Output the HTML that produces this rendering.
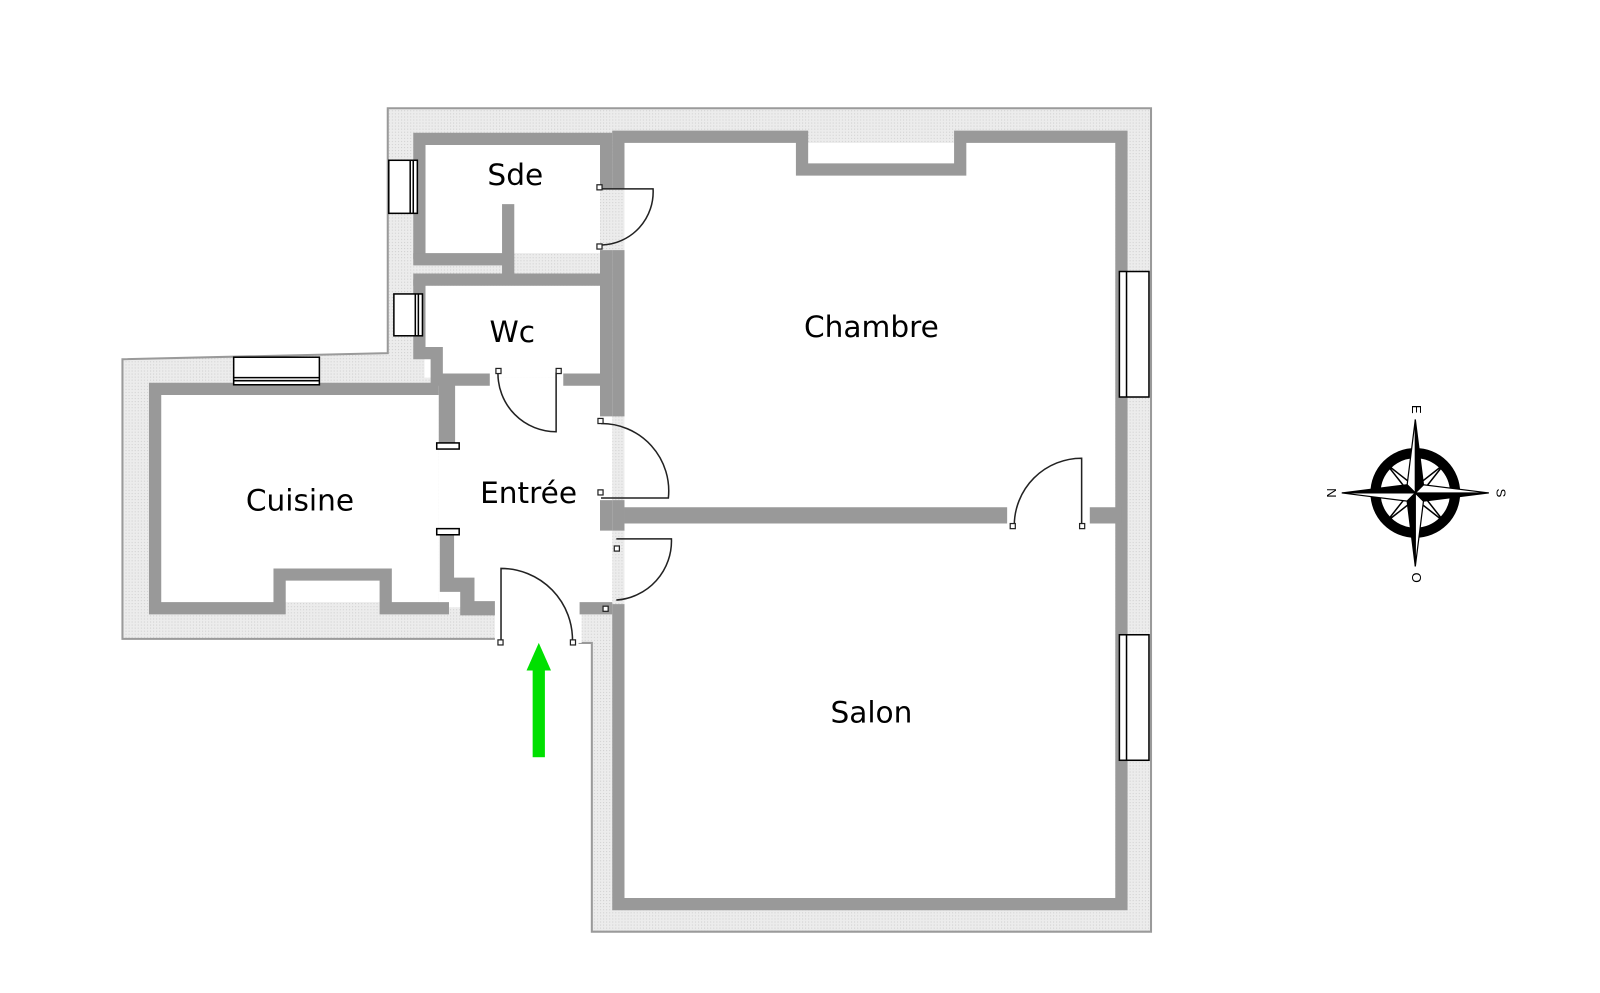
<!DOCTYPE html>
<html><head><meta charset="utf-8"><style>
html,body{margin:0;padding:0;background:#fff;width:1600px;height:993px;overflow:hidden}
svg{display:block}
text{font-family:"Comic Sans MS","DejaVu Sans","Liberation Sans",sans-serif;font-size:29px;fill:#000}
</style></head><body>
<svg width="1600" height="993" viewBox="0 0 1568 973">
<defs>
<pattern id="dots" width="3" height="3" patternUnits="userSpaceOnUse"><rect width="3" height="3" fill="#ececec"/><rect width="1" height="1" fill="#cfcfcf"/></pattern>
</defs>
<polygon points="380,106 1128,106 1128,913 580,913 580,630 568,630 568,626 120,626 120,352 380,346" fill="url(#dots)" stroke="#9a9a9a" stroke-width="2"/>
<g fill="#fff">
<rect x="416" y="141" width="172" height="107"/>
<rect x="416" y="280" width="172" height="90"/>
<rect x="612" y="140" width="481" height="740"/>
<rect x="158" y="387" width="272" height="203"/>
<rect x="430" y="370" width="170" height="225"/>
<rect x="485" y="590" width="85" height="40"/>
</g>
<g fill="none" stroke="#999" stroke-width="12" stroke-linejoin="miter">
<polyline points="411,254 411,136 594,136 594,185"/>
<polyline points="405,254 500,254"/>
<line x1="498" y1="200" x2="498" y2="274"/>
<line x1="405" y1="274" x2="594" y2="274"/>
<polyline points="411,274 411,346 428,346 428,376"/>
<polyline points="428,372 480,372"/>
<line x1="552" y1="372" x2="594" y2="372"/>
<line x1="594" y1="245" x2="594" y2="408"/>
<line x1="606" y1="245" x2="606" y2="408"/>
<polyline points="606,185 606,134 786,134 786,166 941,166 941,134 1099,134 1099,886 606,886 606,592"/>
<line x1="612" y1="505" x2="987" y2="505" stroke-width="16"/>
<line x1="1068" y1="505" x2="1099" y2="505" stroke-width="16"/>
<line x1="594" y1="490" x2="594" y2="520"/>
<line x1="606" y1="490" x2="606" y2="520"/>
<polyline points="430,381 152,381 152,596 274,596 274,563 378,563 378,596 440,596"/>
<line x1="438" y1="376" x2="438" y2="435" stroke-width="16"/>
<polyline points="438,520 438,573 458,573 458,596 485,596" stroke-width="14"/>
<polyline points="568,596 594,596 594,590"/>
</g>
<rect x="428" y="434" width="22" height="6" fill="#fff" stroke="#000" stroke-width="1.5"/>
<rect x="428" y="518" width="22" height="6" fill="#fff" stroke="#000" stroke-width="1.5"/>
<g fill="#fff" stroke="#000" stroke-width="1.5">
<rect x="381" y="157" width="28" height="52"/><line x1="402" y1="157" x2="402" y2="209"/><line x1="405" y1="157" x2="405" y2="209"/>
<rect x="386" y="288" width="28" height="41"/><line x1="407" y1="288" x2="407" y2="329"/><line x1="410" y1="288" x2="410" y2="329"/>
<rect x="229" y="350" width="84" height="27"/><line x1="229" y1="370" x2="313" y2="370"/><line x1="229" y1="373" x2="313" y2="373"/>
<rect x="1097" y="266" width="29" height="123"/><line x1="1104" y1="266" x2="1104" y2="389"/>
<rect x="1097" y="622" width="29" height="123"/><line x1="1104" y1="622" x2="1104" y2="745"/>
</g>
<g fill="none" stroke="#222" stroke-width="1.5">
<path d="M588,185 H640 A52,52 0 0 1 590,240"/>
<path d="M545,365 V423 A57,57 0 0 1 488,365"/>
<path d="M589,488 H655 A66,66 0 0 0 589,415"/>
<path d="M604,528 H658 A58,58 0 0 1 604,588"/>
<path d="M491,629 V557 A70,70 0 0 1 561,629"/>
<path d="M1060,515 V449 A66,66 0 0 0 994,515"/>
</g>
<g fill="#fff" stroke="#222" stroke-width="1.2">
<rect x="585" y="181" width="5" height="5"/><rect x="585" y="239" width="5" height="5"/>
<rect x="486" y="361" width="5" height="5"/><rect x="545" y="361" width="5" height="5"/>
<rect x="586" y="410" width="5" height="5"/><rect x="586" y="480" width="5" height="5"/>
<rect x="602" y="535" width="5" height="5"/><rect x="591" y="594" width="5" height="5"/>
<rect x="488" y="627" width="5" height="5"/><rect x="559" y="627" width="5" height="5"/>
<rect x="990" y="513" width="5" height="5"/><rect x="1058" y="513" width="5" height="5"/>
</g>
<text x="505" y="181" text-anchor="middle">Sde</text>
<text x="502" y="335" text-anchor="middle">Wc</text>
<text x="854" y="330" text-anchor="middle">Chambre</text>
<text x="294" y="500" text-anchor="middle">Cuisine</text>
<text x="518" y="493" text-anchor="middle">Entrée</text>
<text x="854" y="708" text-anchor="middle">Salon</text>
<rect x="522" y="655" width="12" height="87" fill="#00e000"/>
<polygon points="528,630 516,657 540,657" fill="#00e000"/>
<g transform="translate(1387,483)">
<circle r="39" fill="none" stroke="#000" stroke-width="10"/>
<g fill="#fff" stroke="#000" stroke-width="1.5">
<polygon points="0,-6 -28,-28 -6,0 -28,28 0,6 28,28 6,0 28,-28"/>
</g>
<g stroke="#000" stroke-width="1.2">
<polygon points="0,-72 8,-8 0,0" fill="#000"/><polygon points="0,-72 -8,-8 0,0" fill="#fff"/>
<polygon points="0,72 -8,8 0,0" fill="#000"/><polygon points="0,72 8,8 0,0" fill="#fff"/>
<polygon points="-72,0 -8,-8 0,0" fill="#000"/><polygon points="-72,0 -8,8 0,0" fill="#fff"/>
<polygon points="72,0 8,8 0,0" fill="#000"/><polygon points="72,0 8,-8 0,0" fill="#fff"/>
</g>
<text x="0" y="0" transform="translate(0,-82) rotate(90)" text-anchor="middle" dominant-baseline="middle" style="font-size:13px;font-family:'Liberation Sans',sans-serif">E</text>
<text x="0" y="0" transform="translate(-83,0) rotate(90)" text-anchor="middle" dominant-baseline="middle" style="font-size:13px;font-family:'Liberation Sans',sans-serif">N</text>
<text x="0" y="0" transform="translate(83,0) rotate(90)" text-anchor="middle" dominant-baseline="middle" style="font-size:13px;font-family:'Liberation Sans',sans-serif">S</text>
<text x="0" y="0" transform="translate(0,83) rotate(90)" text-anchor="middle" dominant-baseline="middle" style="font-size:13px;font-family:'Liberation Sans',sans-serif">O</text>
</g>
</svg>
</body></html>
